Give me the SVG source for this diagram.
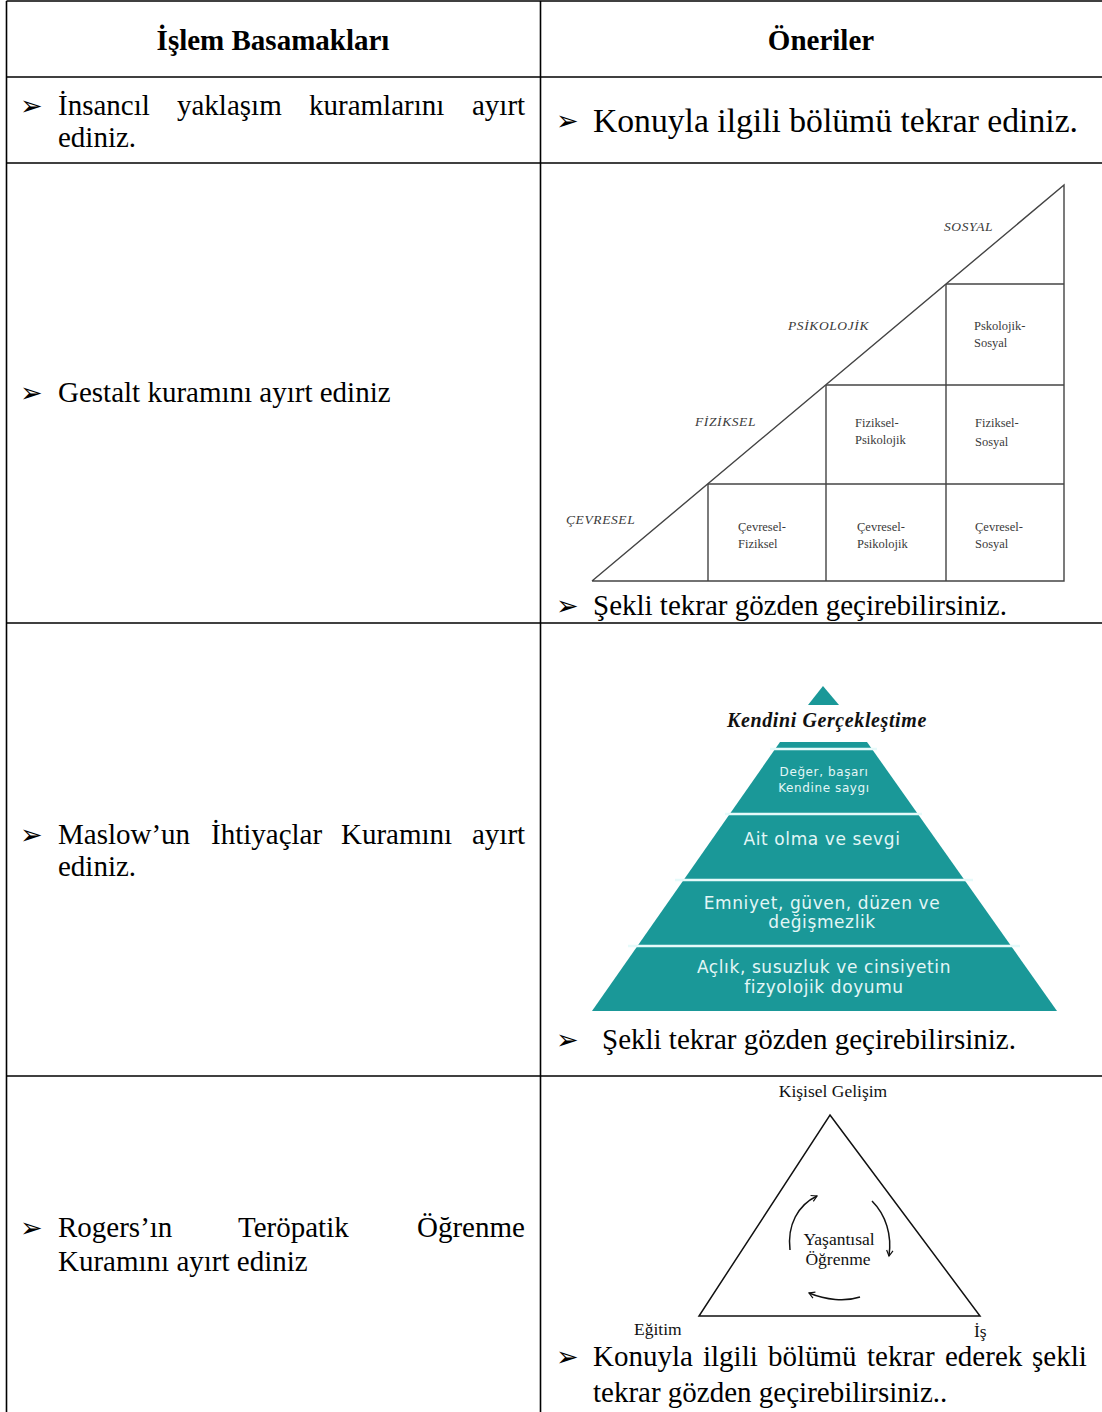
<svg xmlns="http://www.w3.org/2000/svg" width="1102" height="1412" viewBox="0 0 1102 1412">
<style>
.grid{stroke:#000;stroke-width:1.6;fill:none}
.t{font-family:"Liberation Serif","Times New Roman",serif;font-size:29px;fill:#000}
.h{font-family:"Liberation Serif","Times New Roman",serif;font-size:29px;font-weight:bold;fill:#000;text-anchor:middle}
.b{font-family:"DejaVu Sans",sans-serif;font-size:27px;fill:#000}
.ln{stroke:#444;stroke-width:1.4;fill:none}
.lab{font-family:"Liberation Serif",serif;font-style:italic;font-size:13.5px;fill:#3a3a3a;letter-spacing:0.6px}
.cell{font-family:"Liberation Serif",serif;font-size:12.5px;fill:#3a3a3a}
.teal{fill:#1a9898}
.wl{stroke:#e6fafa;stroke-width:2.5}
.pt{font-family:"DejaVu Sans",sans-serif;fill:#e3f6f6;text-anchor:middle;letter-spacing:0.6px}
.rg{font-family:"Liberation Serif",serif;font-size:17.5px;fill:#111}
.rl{stroke:#111;stroke-width:1.5;fill:none}
</style>
<defs>
<marker id="ah" viewBox="0 0 10 10" refX="8" refY="5" markerWidth="8" markerHeight="8" orient="auto-start-reverse" markerUnits="userSpaceOnUse">
<path d="M1,1 L8,5 L1,9" fill="none" stroke="#111" stroke-width="1.5"/>
</marker>
</defs>

<g id="table">
<line class="grid" x1="6.5" y1="1" x2="1102" y2="1"/>
<line class="grid" x1="6.5" y1="77" x2="1102" y2="77"/>
<line class="grid" x1="6.5" y1="163" x2="1102" y2="163"/>
<line class="grid" x1="6.5" y1="623" x2="1102" y2="623"/>
<line class="grid" x1="6.5" y1="1076" x2="1102" y2="1076"/>
<line class="grid" x1="6.5" y1="1" x2="6.5" y2="1412"/>
<line class="grid" x1="540.5" y1="1" x2="540.5" y2="1412"/>
</g>

<g id="header">
<text class="h" x="273" y="50">İşlem Basamakları</text>
<text class="h" x="821" y="50">Öneriler</text>
</g>

<g id="row1">
<text class="b" x="20" y="115">➢</text>
<text class="t" y="115"><tspan x="58">İnsancıl</tspan><tspan x="177">yaklaşım</tspan><tspan x="309">kuramlarını</tspan><tspan x="472">ayırt</tspan></text>
<text class="t" x="58" y="147">ediniz.</text>
<text class="b" x="556" y="130">➢</text>
<text class="t" x="593" y="132" style="font-size:33px" textLength="485" lengthAdjust="spacingAndGlyphs">Konuyla ilgili bölümü tekrar ediniz.</text>
</g>

<g id="row2">
<text class="b" x="20" y="402">➢</text>
<text class="t" x="58" y="402">Gestalt kuramını ayırt ediniz</text>
<g id="staircase">
<polyline class="ln" points="592,581 1064,185 1064,581 592,581"/>
<line class="ln" x1="946" y1="284" x2="1064" y2="284"/>
<line class="ln" x1="826" y1="385" x2="1064" y2="385"/>
<line class="ln" x1="708" y1="484" x2="1064" y2="484"/>
<line class="ln" x1="946" y1="284" x2="946" y2="581"/>
<line class="ln" x1="826" y1="385" x2="826" y2="581"/>
<line class="ln" x1="708" y1="484" x2="708" y2="581"/>
<text class="lab" x="944" y="231">SOSYAL</text>
<text class="lab" x="788" y="330">PSİKOLOJİK</text>
<text class="lab" x="695" y="426">FİZİKSEL</text>
<text class="lab" x="566" y="524">ÇEVRESEL</text>
<text class="cell" x="974" y="330">Pskolojik-</text>
<text class="cell" x="974" y="347">Sosyal</text>
<text class="cell" x="855" y="427">Fiziksel-</text>
<text class="cell" x="855" y="444">Psikolojik</text>
<text class="cell" x="975" y="427">Fiziksel-</text>
<text class="cell" x="975" y="446">Sosyal</text>
<text class="cell" x="738" y="531">Çevresel-</text>
<text class="cell" x="738" y="548">Fiziksel</text>
<text class="cell" x="857" y="531">Çevresel-</text>
<text class="cell" x="857" y="548">Psikolojik</text>
<text class="cell" x="975" y="531">Çevresel-</text>
<text class="cell" x="975" y="548">Sosyal</text>
</g>
<text class="b" x="556" y="615">➢</text>
<text class="t" x="593" y="615">Şekli tekrar gözden geçirebilirsiniz.</text>
</g>

<g id="row3">
<text class="b" x="20" y="844">➢</text>
<text class="t" y="844"><tspan x="58">Maslow’un</tspan><tspan x="211">İhtiyaçlar</tspan><tspan x="341">Kuramını</tspan><tspan x="472">ayırt</tspan></text>
<text class="t" x="58" y="876">ediniz.</text>
<g id="pyramid">
<polygon class="teal" points="823,686 839,705 808,705"/>
<text x="827" y="727" text-anchor="middle" style="font-family:'Liberation Serif',serif;font-style:italic;font-weight:bold;font-size:20px;letter-spacing:0.6px;fill:#111">Kendini Gerçekleştime</text>
<polygon class="teal" points="780,742 867,742 1057,1011 592,1011"/>
<line class="wl" x1="770" y1="749" x2="877" y2="749"/>
<line class="wl" x1="725" y1="814" x2="922" y2="814"/>
<line class="wl" x1="675" y1="880" x2="973" y2="880"/>
<line class="wl" x1="628" y1="946" x2="1020" y2="946"/>
<text class="pt" x="824" y="776" style="font-size:12px">Değer, başarı</text>
<text class="pt" x="824" y="792" style="font-size:12px">Kendine saygı</text>
<text class="pt" x="822" y="845" style="font-size:17px">Ait olma ve sevgi</text>
<text class="pt" x="822" y="909" style="font-size:17px">Emniyet, güven, düzen ve</text>
<text class="pt" x="822" y="928" style="font-size:17px">değişmezlik</text>
<text class="pt" x="824" y="973" style="font-size:17px">Açlık, susuzluk ve cinsiyetin</text>
<text class="pt" x="824" y="993" style="font-size:17px">fizyolojik doyumu</text>
</g>
<text class="b" x="556" y="1049">➢</text>
<text class="t" x="602" y="1049">Şekli tekrar gözden geçirebilirsiniz.</text>
</g>

<g id="row4">
<text class="b" x="20" y="1237">➢</text>
<text class="t" y="1237"><tspan x="58">Rogers’ın</tspan><tspan x="238">Teröpatik</tspan><tspan x="417">Öğrenme</tspan></text>
<text class="t" x="58" y="1271">Kuramını ayırt ediniz</text>
<g id="rogers">
<polygon class="rl" points="830,1115 980,1316 699,1316"/>
<text class="rg" x="833" y="1097" text-anchor="middle">Kişisel Gelişim</text>
<text class="rg" x="634" y="1335">Eğitim</text>
<text class="rg" x="974" y="1337">İş</text>
<text class="rg" x="839" y="1245" text-anchor="middle">Yaşantısal</text>
<text class="rg" x="838" y="1265" text-anchor="middle">Öğrenme</text>
<g id="connectors">
<path class="rl" d="M790,1250 C787,1225 798,1205 817,1196" marker-end="url(#ah)"/>
<path class="rl" d="M872,1201 C886,1215 892,1235 889,1256" marker-end="url(#ah)"/>
<path class="rl" d="M860,1297 C845,1302 826,1300 809,1293" marker-end="url(#ah)"/>
</g>
</g>
<text class="b" x="556" y="1366">➢</text>
<text class="t" y="1366"><tspan x="593">Konuyla</tspan><tspan x="703">ilgili</tspan><tspan x="768">bölümü</tspan><tspan x="867">tekrar</tspan><tspan x="945">ederek</tspan><tspan x="1032">şekli</tspan></text>
<text class="t" x="593" y="1402">tekrar gözden geçirebilirsiniz..</text>
</g>
</svg>
